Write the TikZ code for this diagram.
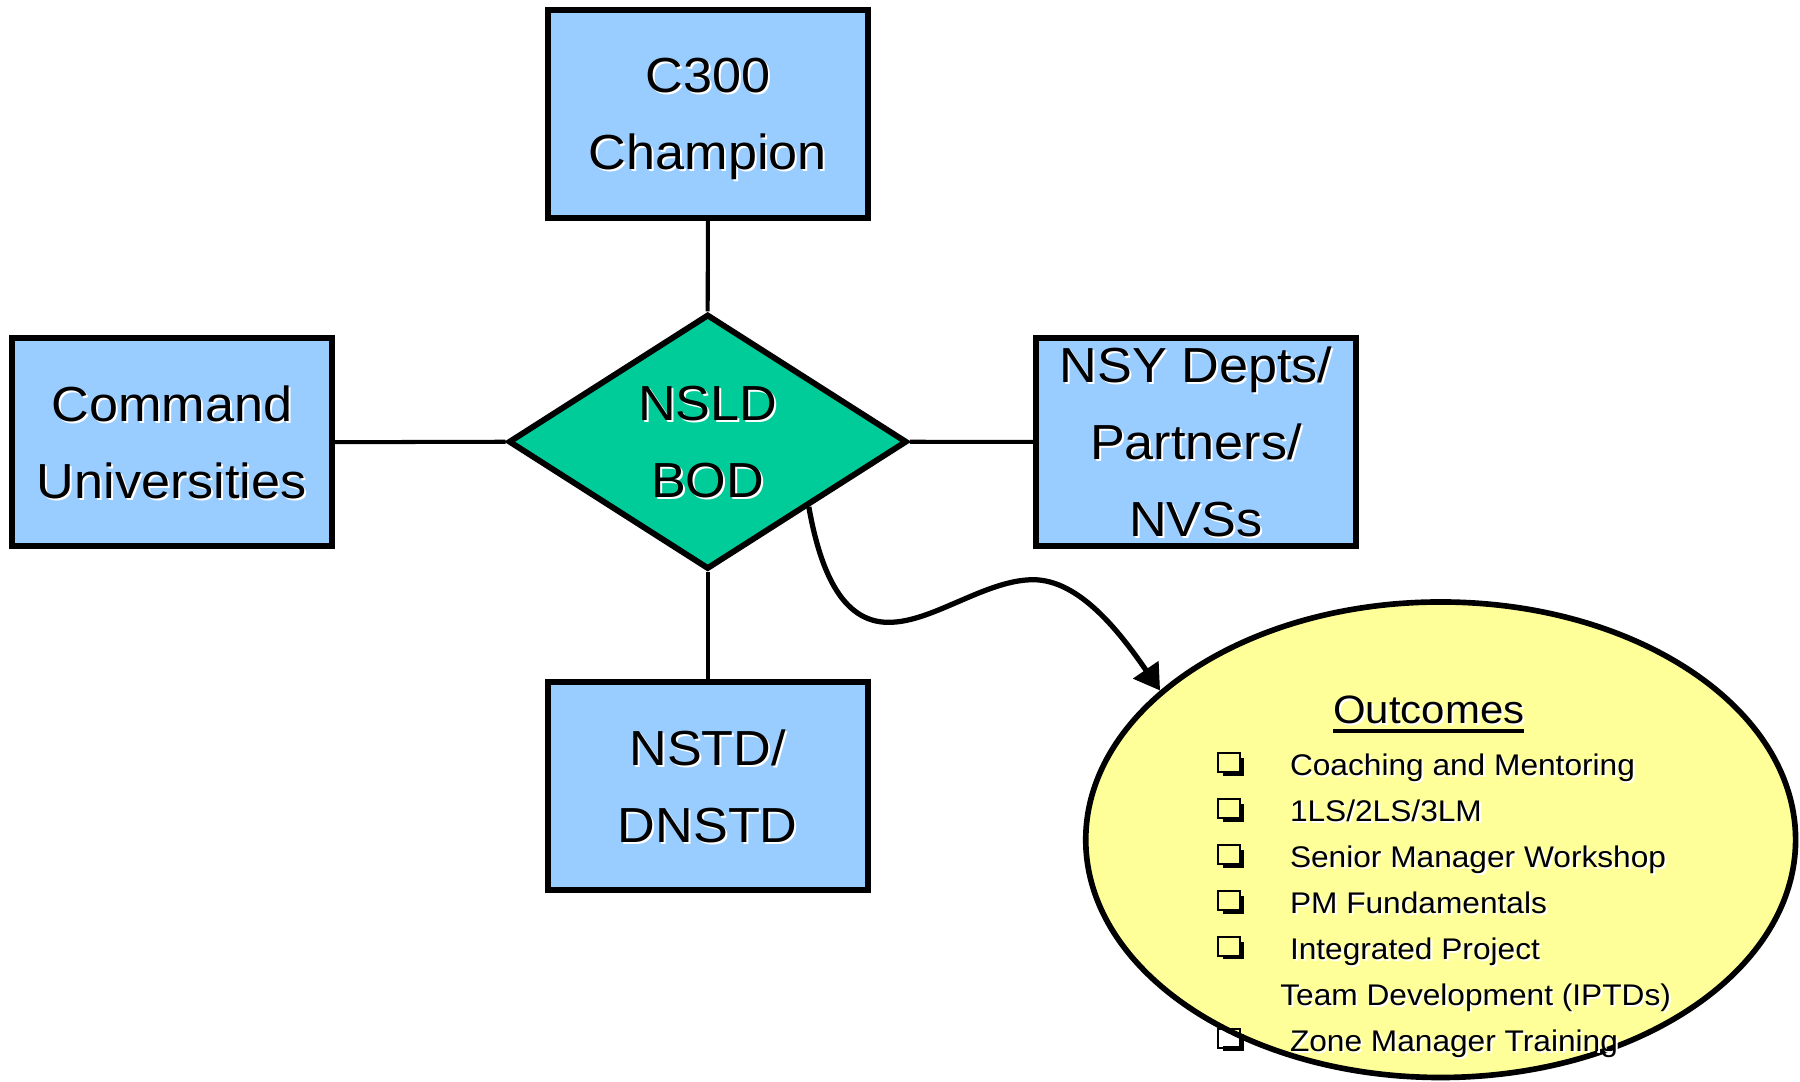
\documentclass[tikz,border=0pt]{standalone}
\usepackage{fontspec}
\setmainfont{Liberation Sans}[FakeStretch=1.06]
\usetikzlibrary{shapes.geometric,arrows.meta}
\definecolor{boxblue}{HTML}{99CCFF}
\definecolor{diagreen}{HTML}{00CC99}
\definecolor{ovalyellow}{HTML}{FFFF99}
\newcommand\bigtxt{\fontsize{12.2}{19.06}\selectfont}
\newcommand\itemtxt{\fontsize{7.4}{11.38}\selectfont}
\newcommand\titletxt{\fontsize{9.8}{12}\selectfont}
\newcommand\shd[1]{\leavevmode\rlap{\kern0.5pt\raisebox{-0.5pt}{\color{white}#1}}#1}
\newcommand\shdz[1]{\raisebox{0pt}[\height][0pt]{\shd{#1}}}
\newcommand\ulin[1]{\setbox0\hbox{#1}\rlap{\rule[-2.3pt]{\wd0}{0.85pt}}\shd{#1}}
\newcommand\cbx{\makebox[0.62cm][l]{\setlength\unitlength{1pt}\setlength\fboxrule{0.6pt}%
  \begin{picture}(6.2,5.4)
  \put(0,1.1){\framebox(5.1,4.3){}}
  \put(1.1,0){\rule{5.1pt}{1.2pt}}
  \put(5.0,0){\rule{1.2pt}{4.3pt}}
  \end{picture}}}
\begin{document}
\begin{tikzpicture}[x=0.01cm,y=-0.01cm,
  box/.style={draw, fill=boxblue, line width=1.45pt, inner sep=0pt,
    minimum width=2.785cm, minimum height=1.808cm, align=center, font=\bigtxt},
  dia/.style={diamond, draw, fill=diagreen, line width=1.45pt, inner sep=0pt,
    aspect=1.565, minimum width=3.47cm, minimum height=2.22cm, align=center, font=\bigtxt},
  oval/.style={ellipse, draw, fill=ovalyellow, line width=1.4pt, inner sep=0pt,
    minimum width=6.18cm, minimum height=4.14cm},
  conn/.style={draw, line width=1pt},
  arr/.style={draw, line width=1.3pt, -{Triangle[length=0.22cm,width=0.26cm]}}]
\useasboundingbox (0,0) rectangle (1568,942);

\node[box] (c300) at (616.6,99.4) {\shdz{C300}\\\shdz{Champion}};
\node[box] (cmd) at (149.6,385.2) {\shdz{Command}\\\shdz{Universities}};
\node[box] (nsy) at (1041.8,385) {\shdz{NSY Depts/}\\\shdz{Partners/}\\\shdz{NVSs}};
\node[box] (nstd) at (616.5,684.6) {\shdz{NSTD/}\\\shdz{DNSTD}};
\node[dia] (nsld) at (616.5,384.8) {\shdz{NSLD}\\\shdz{BOD}};
\node[oval] (out) at (1255,731.5) {};

\draw[conn] (c300.south) -- (nsld.north);
\draw[conn] (cmd.east) -- (nsld.west);
\draw[conn] (nsld.east) -- (nsy.west);
\draw[conn] (nsld.south) -- (nstd.north);

\draw[arr] (nsld.south east) .. controls (715,500) and (735,545) .. (778,542)
  .. controls (815,540) and (860,505) .. (900,505)
  .. controls (940,505) and (975,550) .. (out.152);

\node[anchor=base, inner sep=0pt, font=\titletxt] (otitle) at (1244.7,630) {\ulin{Outcomes}};
\node[anchor=north west, align=left, inner sep=0pt, font=\itemtxt] (olist) at (1061,647)
  {\strut\cbx\shd{Coaching and Mentoring}\\
   \cbx\shd{1LS/2LS/3LM}\\
   \cbx\shd{Senior Manager Workshop}\\
   \cbx\shd{PM Fundamentals}\\
   \cbx\shd{Integrated Project}\\
   \hspace*{0.536cm}\shd{Team Development (IPTDs)}\\
   \cbx\shd{Zone Manager Training}};
\end{tikzpicture}
\end{document}
